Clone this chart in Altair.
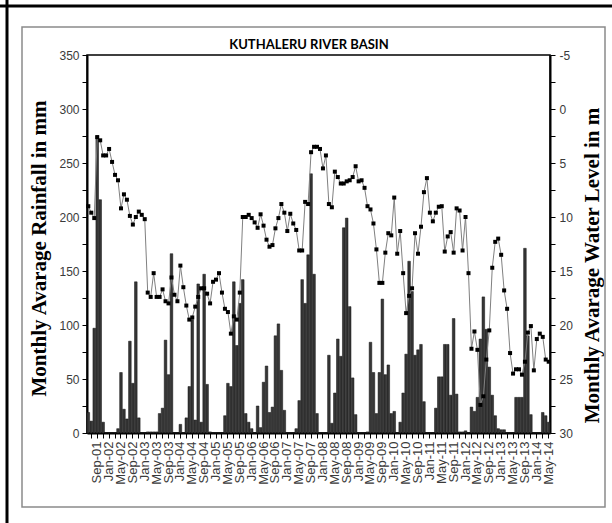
import json
import altair as alt
import pandas as pd

# Months Jun-2001 .. May-2014
months = pd.date_range("2001-06-01", periods=156, freq="MS").strftime("%b-%y").tolist()
tick_months = months[1::2]
label_months = months[3::4]
chart_title = "KUTHALERU RIVER BASIN"

rainfall = [
    19, 11, 97, 275, 216, 10, 0, 0, 0, 0,
    4, 56, 22, 13, 85, 46, 140, 14, 0, 0,
    1, 1, 1, 1, 18, 23, 86, 54, 166, 0,
    0, 8, 0, 14, 43, 105, 12, 138, 10, 147,
    45, 1, 0, 0, 0, 0, 16, 46, 43, 140,
    81, 120, 142, 18, 10, 4, 0, 25, 5, 47,
    62, 19, 24, 90, 101, 58, 21, 0, 0, 0,
    4, 30, 142, 120, 165, 240, 147, 18, 0, 0,
    0, 72, 9, 37, 87, 71, 190, 199, 117, 51,
    17, 0, 0, 0, 1, 84, 56, 18, 56, 124,
    54, 63, 18, 20, 0, 10, 37, 73, 159, 131,
    72, 77, 82, 29, 0, 0, 0, 23, 52, 52,
    82, 82, 35, 106, 36, 1, 1, 2, 0, 24,
    20, 33, 87, 126, 96, 61, 35, 16, 4, 3,
    3, 0, 0, 0, 33, 33, 33, 171, 90, 17,
    0, 0, 0, 19, 16, 10,
]

water_level = [
    9.0, 9.6, 10.1, 2.6, 2.9, 4.3, 4.3, 3.7, 4.9, 6.1,
    6.6, 9.2, 7.9, 8.4, 9.9, 10.7, 10.0, 9.5, 9.8, 10.2,
    17.0, 17.4, 15.2, 17.4, 17.4, 16.7, 17.8, 18.0, 15.6, 17.2,
    17.8, 14.5, 16.5, 18.2, 19.5, 19.3, 18.3, 17.4, 16.6, 16.6,
    17.1, 18.0, 16.0, 15.8, 15.2, 17.0, 18.5, 18.8, 20.8, 19.2,
    19.5, 17.0, 10.0, 10.0, 9.8, 10.1, 10.5, 11.0, 9.75, 10.8,
    12.1, 12.75, 12.6, 11.05, 10.1, 8.8, 9.6, 11.3, 9.7, 10.6,
    11.2, 13.1, 13.1, 8.6, 8.8, 4.0, 3.5, 3.5, 3.7, 5.5,
    4.3, 8.8, 9.1, 5.8, 6.3, 6.9, 6.9, 6.7, 6.6, 6.3,
    5.3, 6.7, 6.6, 7.3, 9.0, 9.3, 10.6, 13.0, 16.1, 16.1,
    13.3, 11.5, 11.7, 8.2, 13.4, 11.3, 15.2, 18.9, 17.3, 16.6,
    11.5, 13.4, 10.9, 7.7, 6.4, 9.6, 10.4, 9.6, 9.05, 9.0,
    13.2, 11.8, 11.4, 13.3, 9.2, 9.4, 13.1, 10.0, 15.2, 22.2,
    20.6, 22.3, 27.4, 26.6, 23.2, 20.5, 14.7, 12.3, 12.0, 13.5,
    16.8, 18.5, 22.6, 24.5, 24.1, 24.1, 24.6, 23.4, 20.7, 20.1,
    24.2, 21.3, 20.8, 21.1, 23.2, 23.4,
]

rain_ticks = list(range(0, 351, 25))
wl_ticks = [v / 2 for v in range(-10, 61, 5)]

df = pd.DataFrame({"month": months, "rain": rainfall, "wl": water_level})
one = pd.DataFrame({"k": [0]})

label_expr = (
    "indexof(" + json.dumps(label_months) + ", datum.value) >= 0 ? datum.value : ''"
)

x_enc = alt.X(
    "month:O",
    sort=None,
    scale=alt.Scale(domain=months, paddingInner=0.12, paddingOuter=0),
    axis=alt.Axis(
        values=tick_months,
        labelExpr=label_expr,
        labelAngle=270,
        labelFont="Liberation Sans",
        labelFontSize=13,
        labelColor="#3a3a3a",
        labelPadding=3,
        labelOverlap=False,
        tickSize=5,
        tickColor="black",
        tickWidth=1,
        domainColor="black",
        domainWidth=2,
        grid=False,
        title=None,
    ),
)

y_rain = alt.Y(
    "rain:Q",
    scale=alt.Scale(domain=[0, 350], nice=False, zero=True),
    axis=alt.Axis(
        orient="left",
        values=rain_ticks,
        labelExpr="datum.value % 50 == 0 ? '' + datum.value : ''",
        labelFont="Liberation Sans",
        labelFontSize=12,
        labelColor="#3a3a3a",
        labelPadding=3,
        tickSize=5,
        tickColor="black",
        domainColor="black",
        domainWidth=2,
        grid=False,
        title="Monthly Avarage Rainfall in mm",
        titleFont="Liberation Serif",
        titleFontSize=21,
        titleFontWeight="bold",
        titleColor="black",
        titleX=-38,
        titleY=193,
    ),
)

wl_axis = alt.Axis(
    orient="right",
    values=wl_ticks,
    labelExpr="datum.value % 5 == 0 ? '' + datum.value : ''",
    labelFont="Liberation Sans",
    labelFontSize=12,
    labelColor="#3a3a3a",
    labelPadding=4,
    tickSize=5,
    tickColor="black",
    domainColor="black",
    domainWidth=2,
    grid=False,
    title="Monthly Avarage Water Level in m",
    titleFont="Liberation Serif",
    titleFontSize=21,
    titleFontWeight="bold",
    titleColor="black",
    titleAngle=270,
    titleBaseline="top",
    titleX=31,
    titleY=210,
)
y_wl = alt.Y(
    "wl:Q",
    scale=alt.Scale(domain=[-5, 30], nice=False, zero=False, reverse=True),
    axis=wl_axis,
)

inner_frame = alt.Chart(one).mark_rect(
    fill="transparent", stroke="#8a8a8a", strokeWidth=1.5
).encode(x=alt.value(-65), x2=alt.value(518), y=alt.value(-28), y2=alt.value(452))
top_line = alt.Chart(one).mark_rule(color="black", strokeWidth=3).encode(
    x=alt.value(-87), x2=alt.value(525), y=alt.value(-49)
)
left_line = alt.Chart(one).mark_rule(color="black", strokeWidth=3).encode(
    x=alt.value(-80), y=alt.value(-55), y2=alt.value(468)
)
title_text = alt.Chart(one).mark_text(
    font="Lato", fontSize=13, fontWeight="bold", color="black",
    align="center", baseline="alphabetic",
).encode(x=alt.value(222), y=alt.value(-6), text=alt.value(chart_title))

bars = alt.Chart(df).mark_bar(
    color="#363636", stroke="#111111", strokeWidth=0.5
).encode(x=x_enc, y=y_rain)

line = alt.Chart(df).mark_line(color="#808080", strokeWidth=1).encode(x=x_enc, y=y_wl)
points = alt.Chart(df).mark_square(size=16, color="black", opacity=1).encode(
    x=x_enc, y=y_wl
)

rain_layer = alt.layer(inner_frame, top_line, left_line, title_text, bars)
wl_layer = alt.layer(line, points)

chart = (
    alt.layer(rain_layer, wl_layer)
    .resolve_scale(y="independent")
    .properties(
        width=463,
        height=378,
        padding={"left": 87, "top": 55, "right": 62, "bottom": 90},
        autosize=alt.AutoSizeParams(type="none"),
        background="white",
    )
    .configure_view(stroke="black", strokeWidth=1.5)
)

chart.save("out.html", embed_options={"renderer": "svg", "actions": False})
